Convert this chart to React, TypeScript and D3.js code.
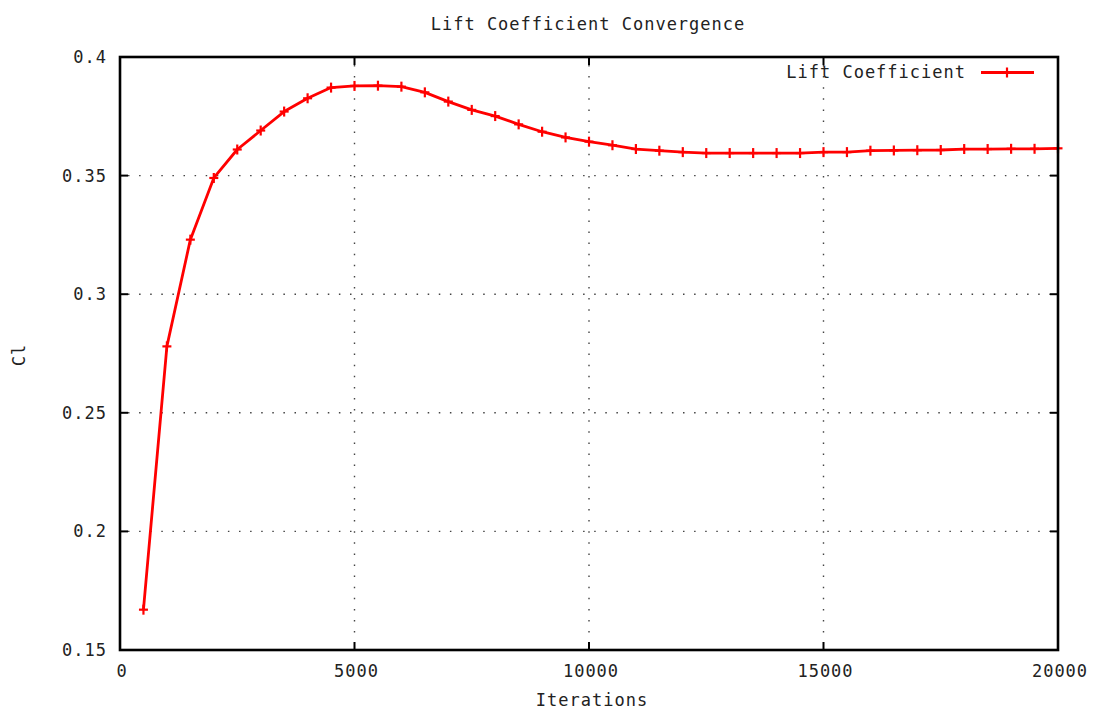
import React from "react";
import * as d3 from "d3";

// Lift coefficient sampled every 500 iterations
const iterations: number[] = [
  500, 1000, 1500, 2000, 2500, 3000, 3500, 4000, 4500, 5000,
  5500, 6000, 6500, 7000, 7500, 8000, 8500, 9000, 9500, 10000,
  10500, 11000, 11500, 12000, 12500, 13000, 13500, 14000, 14500, 15000,
  15500, 16000, 16500, 17000, 17500, 18000, 18500, 19000, 19500, 20000,
];
const liftCoefficient: number[] = [
  0.167, 0.278, 0.323, 0.349, 0.361, 0.369, 0.377, 0.3826, 0.3871, 0.3878,
  0.3879, 0.3875, 0.3851, 0.3812, 0.3777, 0.3751, 0.3716, 0.3685, 0.3661, 0.3643,
  0.3628, 0.3612, 0.3605, 0.3599, 0.3595, 0.3595, 0.3595, 0.3595, 0.3595, 0.3599,
  0.3599, 0.3605, 0.3606, 0.3607, 0.3608, 0.3612, 0.3612, 0.3613, 0.3613, 0.3615,
];
const xTicks: number[] = [0, 5000, 10000, 15000, 20000];
const yTicks: number[] = [0.15, 0.2, 0.25, 0.3, 0.35, 0.4];

const W = 1095;
const H = 711;
const M = { left: 120, right: 1058, top: 57, bottom: 650 };
const FONT = "'DejaVu Sans Mono', monospace";
const LS = 1.0;
const RED = "#ff0000";

export default function App() {
  const x = d3.scaleLinear().domain([0, 20000]).range([M.left, M.right]);
  const y = d3.scaleLinear().domain([0.15, 0.4]).range([M.bottom, M.top]);
  const pts = iterations.map((it, i) => [x(it), y(liftCoefficient[i])] as [number, number]);
  const path = d3.line()(pts) || "";
  const tick = 8;
  const marker = (cx: number, cy: number, k: string) => (
    <g key={k} stroke={RED} strokeWidth={2.2}>
      <line x1={cx - 4.5} x2={cx + 4.5} y1={cy} y2={cy} />
      <line x1={cx} x2={cx} y1={cy - 5} y2={cy + 5} />
    </g>
  );
  const textStyle = { fontFamily: FONT, fontSize: 17, letterSpacing: LS, fill: "#222" } as React.CSSProperties;

  return (
    <svg width={W} height={H} style={{ position: "absolute", left: 0, top: 0, background: "#fff" }}>
      {/* grid */}
      <g stroke="#444" strokeWidth={1.4} strokeDasharray="1.5 9.6">
        {xTicks.slice(1, -1).map((t) => (
          <line key={"gx" + t} x1={x(t)} x2={x(t)} y1={M.top + tick} y2={M.bottom - tick} />
        ))}
        {yTicks.slice(1, -1).map((t) => (
          <line key={"gy" + t} x1={M.left + tick} x2={M.right - tick} y1={y(t)} y2={y(t)} />
        ))}
      </g>
      {/* ticks on all four sides */}
      <g stroke="#000" strokeWidth={2}>
        {xTicks.map((t) => (
          <g key={"tx" + t}>
            <line x1={x(t)} x2={x(t)} y1={M.bottom} y2={M.bottom - tick} />
            <line x1={x(t)} x2={x(t)} y1={M.top} y2={M.top + tick} />
          </g>
        ))}
        {yTicks.map((t) => (
          <g key={"ty" + t}>
            <line x1={M.left} x2={M.left + tick} y1={y(t)} y2={y(t)} />
            <line x1={M.right} x2={M.right - tick} y1={y(t)} y2={y(t)} />
          </g>
        ))}
      </g>
      {/* data */}
      <path d={path} fill="none" stroke={RED} strokeWidth={2.8} strokeLinejoin="round" />
      {pts.map((p, i) => marker(p[0], p[1], "m" + i))}
      {/* frame */}
      <rect x={M.left} y={M.top} width={M.right - M.left} height={M.bottom - M.top}
        fill="none" stroke="#000" strokeWidth={2.6} />
      {/* tick labels */}
      {yTicks.map((t) => (
        <text key={"ly" + t} x={M.left - 13} y={y(t) + 6} textAnchor="end" style={textStyle}>
          {String(t)}
        </text>
      ))}
      {xTicks.map((t) => (
        <text key={"lx" + t} x={x(t) + 2} y={677} textAnchor="middle" style={textStyle}>
          {String(t)}
        </text>
      ))}
      {/* titles */}
      <text x={588} y={30} textAnchor="middle" style={textStyle}>Lift Coefficient Convergence</text>
      <text x={592} y={706} textAnchor="middle" style={textStyle}>Iterations</text>
      <text transform="translate(25,355) rotate(-90)" textAnchor="middle" style={textStyle}>Cl</text>
      {/* legend */}
      <text x={966} y={78} textAnchor="end" style={textStyle}>Lift Coefficient</text>
      <line x1={981} x2={1034} y1={72.5} y2={72.5} stroke={RED} strokeWidth={2.8} />
      {marker(1007, 72.5, "legend")}
    </svg>
  );
}
